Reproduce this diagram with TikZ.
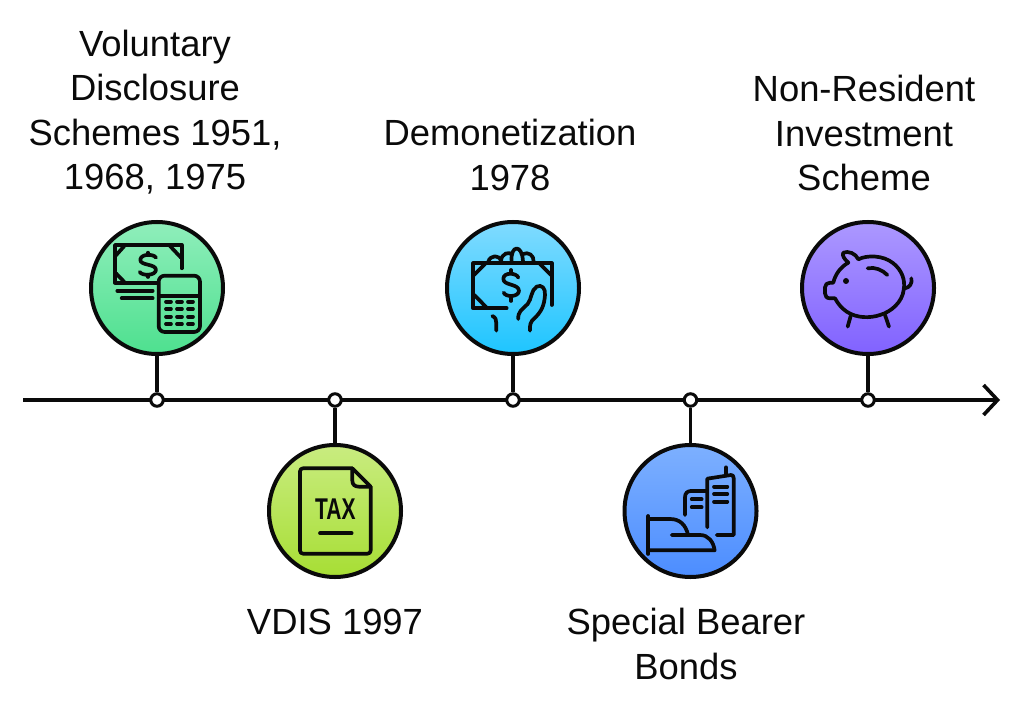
\documentclass[tikz,border=0pt]{standalone}
\usepackage{fontspec}
\setmainfont{Liberation Sans}
\usetikzlibrary{arrows.meta}
\definecolor{inkc}{HTML}{0A0A0A}
\tikzset{
  x=1pt,y=-1pt,
  disc/.style={circle,draw=inkc,line width=4pt,minimum size=132pt,inner sep=0pt,shading angle=0},
  dot/.style={circle,draw=inkc,fill=white,line width=3pt,minimum size=12.5pt,inner sep=0pt},
  link/.style={draw=inkc,line width=3.6pt},
  label/.style={font=\fontsize{36.4}{44.4}\selectfont,align=center,text=inkc,inner sep=0pt},
  icon/.style={draw=inkc,line width=3.7pt,line cap=round,line join=round},
  ico/.style={shift={#1},scale=0.3333},
}
\begin{document}
\begin{tikzpicture}
\useasboundingbox (0,0) rectangle (1024,711);
% discs
\node[disc,top color={rgb,255:red,143;green,238;blue,187},bottom color={rgb,255:red,78;green,224;blue,143}] (c1) at (157,288) {};
\node[disc,top color={rgb,255:red,201;green,236;blue,128},bottom color={rgb,255:red,167;green,222;blue,52}] (c2) at (335,511) {};
\node[disc,top color={rgb,255:red,128;green,219;blue,255},bottom color={rgb,255:red,30;green,197;blue,255}] (c3) at (513,288) {};
\node[disc,top color={rgb,255:red,125;green,176;blue,255},bottom color={rgb,255:red,76;green,141;blue,255}] (c4) at (690.5,511) {};
\node[disc,top color={rgb,255:red,172;green,152;blue,255},bottom color={rgb,255:red,129;green,98;blue,255}] (c5) at (868,288) {};
% axis
\coordinate (axs) at (23,400);
\coordinate (axe) at (1000,400);
\draw[link,-{Straight Barb[length=14pt,width=30pt]}] (axs) -- (axe);
% dots
\node[dot] (d1) at (157,400) {};
\node[dot] (d2) at (335,400) {};
\node[dot] (d3) at (513,400) {};
\node[dot] (d4) at (690.5,400) {};
\node[dot] (d5) at (868,400) {};
% connectors
\draw[link] (c1) -- (d1);
\draw[link] (c2) -- (d2);
\draw[link] (c3) -- (d3);
\draw[link] (c4) -- (d4);
\draw[link] (c5) -- (d5);
% labels
\node[label] (l1) at (155,112) {Voluntary\\Disclosure\\Schemes 1951,\\1968, 1975};
\node[label] (l2) at (335,622) {VDIS 1997};
\node[label] (l3) at (510,155) {Demonetization\\1978};
\node[label] (l4) at (686,644) {Special Bearer\\Bonds};
\node[label] (l5) at (864,133) {Non-Resident\\Investment\\Scheme};
% icon 1
\begin{scope}[ico={(80,210)}]
\draw[icon] (230,218) -- (105,218) -- (105,105) -- (305,105) -- (305,175);
\draw[icon] (107,137) -- (133,108) (108,190) -- (133,216) (270,108) -- (303,143);
\draw[icon] (228,143) .. controls (222,132) and (185,130) .. (181,148) .. controls (178,168) and (228,160) .. (228,180) .. controls (226,198) and (186,198) .. (179,186);
\draw[icon] (204,128) -- (204,135) (204,194) -- (204,201);
\draw[icon] (112,242) -- (218,242) (125,265) -- (218,265);
\draw[icon,rounded corners=6pt] (236,197) rectangle (360,366);
\draw[icon] (237,258) -- (359,258);
\foreach \r in {275,297,320,342}{
  \draw[icon] (258,\r) -- (273,\r) (291,\r) -- (306,\r) (324,\r) -- (339,\r);
}
\end{scope}
% icon 2
\begin{scope}[ico={(260,390)}]
\draw[icon,rounded corners=3pt] (277,235) -- (120,235) -- (120,491) -- (332,491) -- (332,290);
\draw[icon] (277,235) -- (332,290);
\draw[icon] (277,235) -- (277,272) .. controls (277,284) and (285,290) .. (296,290) -- (332,290);
\draw[icon] (180,430) -- (275,430);
\node[inner sep=0pt,text=inkc,font=\fontsize{30}{30}\selectfont\bfseries] (taxt) at (226,357) {\scalebox{0.7}[1]{TAX}};
\end{scope}
% icon 3
\begin{scope}[ico={(435,210)}]
\draw[icon] (215,295) -- (115,295) -- (115,160) -- (350,160) -- (350,285);
\draw[icon] (117,195) -- (150,162) (118,255) -- (155,293) (315,162) -- (348,195);
\draw[icon] (250,203) .. controls (245,188) and (207,186) .. (205,205) .. controls (203,228) and (252,220) .. (252,243) .. controls (250,262) and (212,262) .. (206,248);
\draw[icon] (228,180) -- (228,188) (228,264) -- (228,273);
\draw[icon] (160,155) .. controls (165,135) and (195,132) .. (198,155);
\draw[icon] (198,155) .. controls (198,128) and (225,125) .. (230,133);
\draw[icon] (230,155) .. controls (225,105) and (262,100) .. (264,155);
\draw[icon] (264,132) .. controls (280,125) and (297,135) .. (296,155);
\draw[icon] (250,327) .. controls (248,305) and (262,298) .. (278,282) .. controls (290,268) and (288,240) .. (305,230) .. controls (320,222) and (332,235) .. (330,255) .. controls (328,285) and (320,305) .. (298,325) .. controls (286,335) and (284,345) .. (285,362);
\draw[icon] (172,318) .. controls (182,322) and (184,330) .. (184,340) -- (184,362);
\end{scope}
% icon 4
\begin{scope}[ico={(615,390)}]
\draw[icon] (100,378) -- (100,492);
\draw[icon] (100,387) -- (165,387) .. controls (195,387) and (212,405) .. (219,434);
\draw[icon] (170,435) -- (255,435) .. controls (280,435) and (295,455) .. (299,481) -- (100,481);
\draw[icon] (210,375) -- (210,322) .. controls (210,310) and (217,303) .. (228,303) -- (275,303);
\draw[icon] (277,412) -- (277,266) -- (348,255) .. controls (353,255) and (356,258) .. (356,264) -- (356,435) -- (305,435);
\draw[icon] (333,232) -- (333,255);
\draw[icon] (297,290) -- (337,290) (297,312) -- (337,312) (297,335) -- (337,335);
\draw[icon] (230,328) -- (260,328) (230,352) -- (260,352);
\end{scope}
% icon 5
\begin{scope}[ico={(795,210)}]
\draw[icon] (190,148) .. controls (215,135) and (265,135) .. (295,160) .. controls (320,180) and (332,210) .. (326,240) .. controls (322,275) and (290,305) .. (255,315) .. controls (225,325) and (185,325) .. (155,305) .. controls (140,295) and (128,280) .. (120,265) -- (105,265) .. controls (95,265) and (90,258) .. (90,250) -- (90,232) .. controls (90,223) and (97,218) .. (106,218) -- (115,218) .. controls (120,195) and (135,172) .. (160,158) .. controls (148,148) and (140,135) .. (145,128) .. controls (160,122) and (182,130) .. (190,148) -- cycle;
\draw[icon] (330,235) .. controls (345,232) and (352,220) .. (349,205);
\fill[inkc] (153,213) circle (9);
\draw[icon] (218,175) .. controls (240,170) and (262,180) .. (277,195);
\draw[icon] (167,318) -- (158,350);
\draw[icon] (270,315) -- (282,350);
\end{scope}
\end{tikzpicture}
\end{document}
